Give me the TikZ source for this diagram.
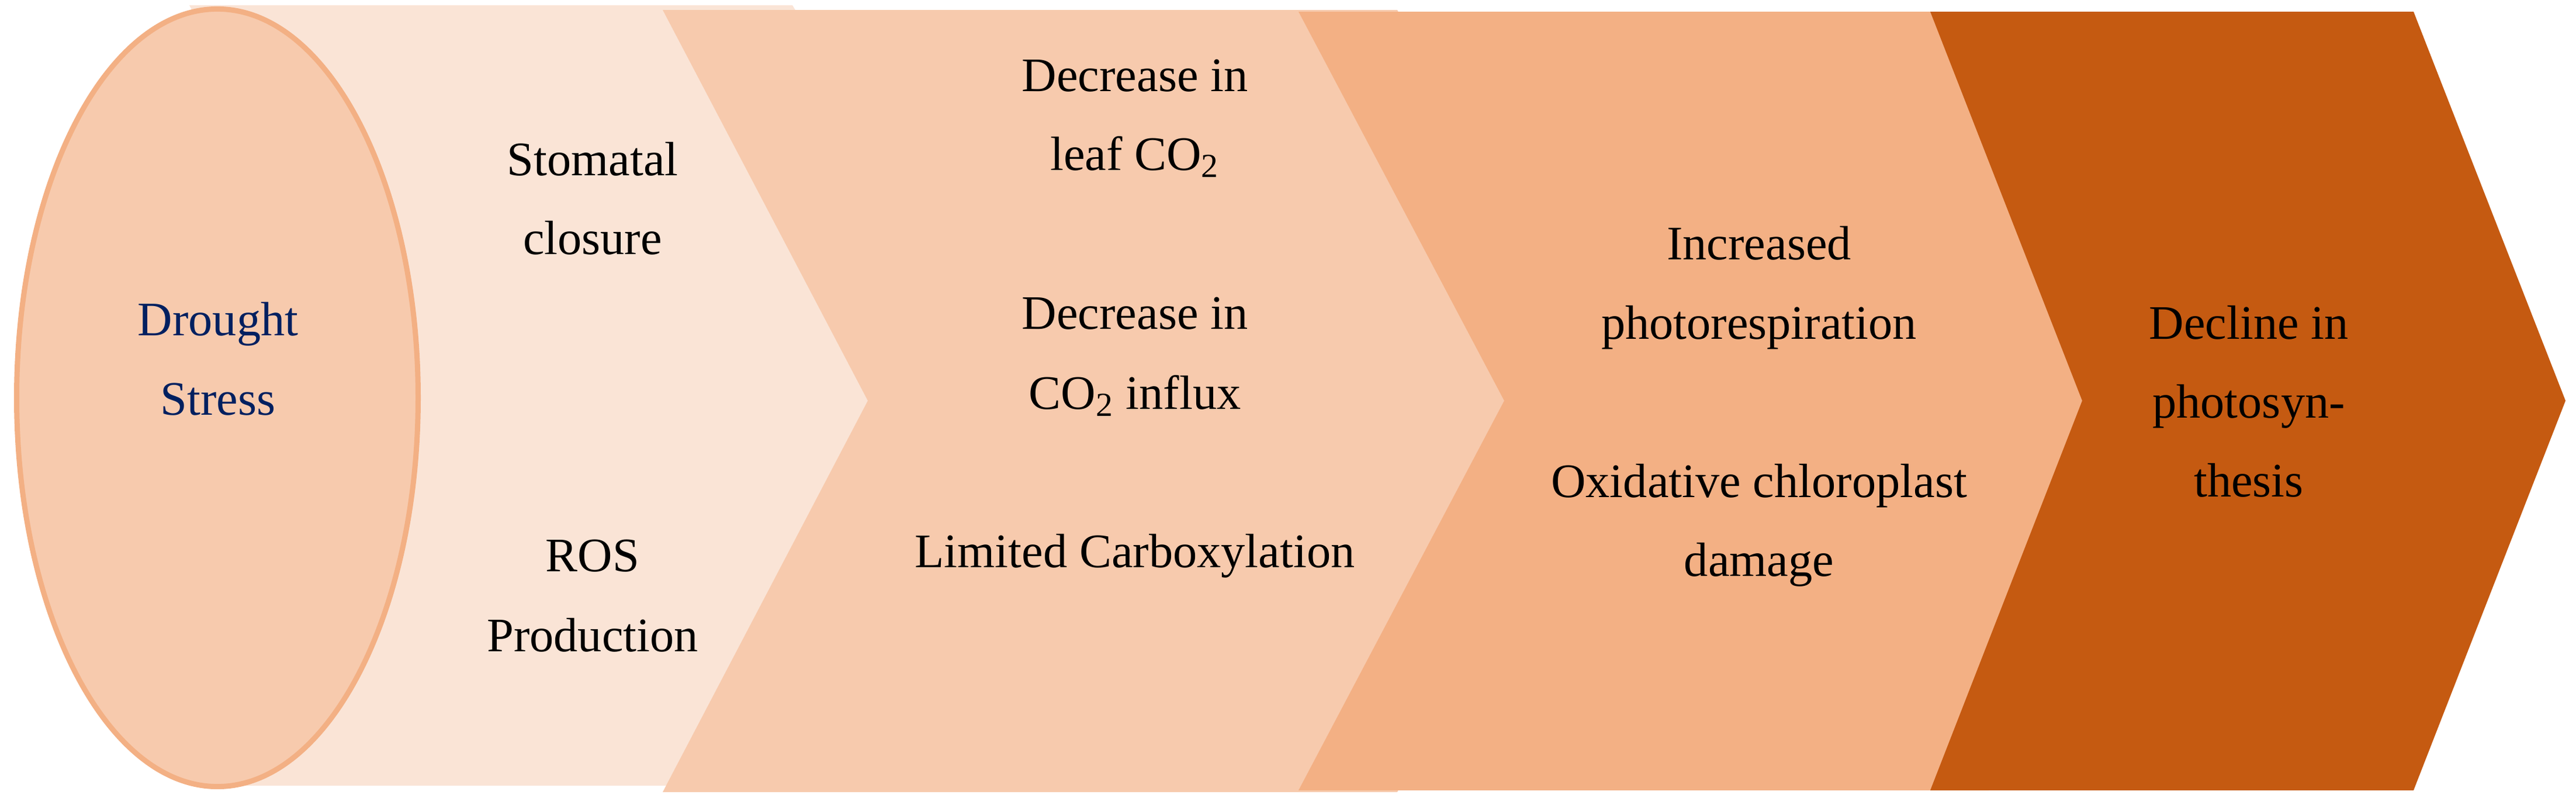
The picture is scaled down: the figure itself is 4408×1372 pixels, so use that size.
\documentclass[tikz,border=0pt]{standalone}
\usepackage{fontspec}
\setmainfont{Liberation Serif}
\definecolor{bandA}{HTML}{FAE4D6}
\definecolor{bandB}{HTML}{F7CAAD}
\definecolor{bandC}{HTML}{F3B084}
\definecolor{bandD}{HTML}{C55A11}
\definecolor{ellFill}{HTML}{F7CAAD}
\definecolor{ellLine}{HTML}{F3B084}
\definecolor{navy}{HTML}{002060}
\begin{document}
\begin{tikzpicture}[x=0.25pt,y=-0.25pt,
  lbl/.style={anchor=base, inner sep=0pt, font=\fontsize{20.6}{24}\selectfont, text=black},
  title/.style={lbl, text=navy}]
\useasboundingbox (0,0) rectangle (4408,1372);
% background band
\fill[bandA] (324,9) -- (1356,9) -- (1757,677) -- (1356,1345) -- (324,1345) -- (680,677) -- cycle;
% chevrons
\fill[bandB] (1134,17) -- (2391,17) -- (2742,686) -- (2391,1356) -- (1134,1356) -- (1485,686) -- cycle;
\fill[bandC] (2222,20) -- (3403,20) -- (3663,686) -- (3403,1353) -- (2222,1353) -- (2574,686) -- cycle;
\fill[bandD] (3303,20) -- (4130,20) -- (4390,686) -- (4130,1353) -- (3303,1353) -- (3563,686) -- cycle;
% ellipse
\draw[draw=ellLine, fill=ellFill, line width=2.25pt] (372,681) ellipse [x radius=85.875pt, y radius=166.4pt];
% texts
\node[title] (dr1) at (373,574) {Drought};
\node[title] (dr2) at (373,710) {Stress};
\node[lbl] (st1) at (1014,300) {Stomatal};
\node[lbl] (st2) at (1014,435) {closure};
\node[lbl] (ro1) at (1014,978) {ROS};
\node[lbl] (ro2) at (1014,1115) {Production};
\node[lbl] (dl1) at (1942,156) {Decrease in};
\node[lbl] (dl2) at (1942,291) {leaf CO\textsubscript{2}};
\node[lbl] (di1) at (1942,563) {Decrease in};
\node[lbl] (di2) at (1942,700) {CO\textsubscript{2} influx};
\node[lbl] (lc1) at (1942,971) {Limited Carboxylation};
\node[lbl] (ip1) at (3010,444) {Increased};
\node[lbl] (ip2) at (3010,580) {photorespiration};
\node[lbl] (oc1) at (3010,851) {Oxidative chloroplast};
\node[lbl] (oc2) at (3010,986) {damage};
\node[lbl] (de1) at (3848,580) {Decline in};
\node[lbl] (de2) at (3848,715) {photosyn-};
\node[lbl] (de3) at (3848,850) {thesis};
\end{tikzpicture}
\end{document}
